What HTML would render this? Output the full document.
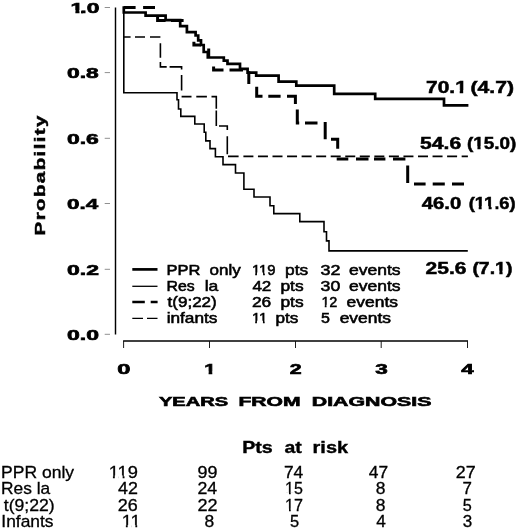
<!DOCTYPE html>
<html lang="en"><head><meta charset="utf-8"><title>Kaplan-Meier: probability by years from diagnosis</title>
<style>
html,body{margin:0;padding:0;background:#fff;}
svg{display:block;}
text{fill:#000;font-family:"Liberation Sans",Arial,Helvetica,sans-serif;}
</style></head>
<body>
<svg width="520" height="530" viewBox="0 0 520 530">
<rect x="0" y="0" width="520" height="530" fill="#fff"/>
<line x1="115.5" y1="7.6" x2="115.5" y2="334.6" stroke="#000" stroke-width="1.45"/>
<line x1="123.1" y1="341" x2="468" y2="341" stroke="#000" stroke-width="1.5"/>
<line x1="123.6" y1="341" x2="123.6" y2="348" stroke="#111" stroke-width="0.95"/>
<line x1="209.5" y1="341" x2="209.5" y2="348" stroke="#111" stroke-width="0.95"/>
<line x1="295.5" y1="341" x2="295.5" y2="348" stroke="#111" stroke-width="0.95"/>
<line x1="381.2" y1="341" x2="381.2" y2="348" stroke="#111" stroke-width="0.95"/>
<line x1="467.5" y1="341" x2="467.5" y2="348" stroke="#111" stroke-width="0.95"/>
<line x1="104.7" y1="7.5" x2="110" y2="7.5" stroke="#909090" stroke-width="1"/>
<line x1="104.7" y1="72.6" x2="110" y2="72.6" stroke="#909090" stroke-width="1"/>
<line x1="104.7" y1="138.3" x2="110" y2="138.3" stroke="#909090" stroke-width="1"/>
<line x1="104.7" y1="203.5" x2="110" y2="203.5" stroke="#909090" stroke-width="1"/>
<line x1="104.7" y1="269.3" x2="110" y2="269.3" stroke="#909090" stroke-width="1"/>
<line x1="104.7" y1="334.3" x2="110" y2="334.3" stroke="#909090" stroke-width="1"/>
<text transform="translate(70.53,12.8) scale(1.5210,1)" dx="0 -1.89 0" font-size="15.0" font-weight="bold" stroke="#000" stroke-width="0.65">1.0</text>
<rect x="70.88" y="10.04" width="4.49" height="4.08" fill="#fff"/>
<rect x="79.48" y="10.04" width="1.52" height="4.08" fill="#fff"/>
<text x="66.99" y="77.9" font-size="15.0" font-weight="bold" textLength="31.72" lengthAdjust="spacingAndGlyphs" stroke="#000" stroke-width="0.65">0.8</text>
<text x="66.99" y="143.6" font-size="15.0" font-weight="bold" textLength="31.84" lengthAdjust="spacingAndGlyphs" stroke="#000" stroke-width="0.65">0.6</text>
<text x="67.0" y="208.8" font-size="15.0" font-weight="bold" textLength="31.14" lengthAdjust="spacingAndGlyphs" stroke="#000" stroke-width="0.65">0.4</text>
<text x="66.99" y="274.6" font-size="15.0" font-weight="bold" textLength="31.93" lengthAdjust="spacingAndGlyphs" stroke="#000" stroke-width="0.65">0.2</text>
<text x="66.99" y="339.6" font-size="15.0" font-weight="bold" textLength="31.96" lengthAdjust="spacingAndGlyphs" stroke="#000" stroke-width="0.65">0.0</text>
<text x="117.28" y="374.3" font-size="15.0" font-weight="bold" textLength="13.18" lengthAdjust="spacingAndGlyphs" stroke="#000" stroke-width="0.65">0</text>
<text x="204.24" y="374.3" font-size="15.0" font-weight="bold" textLength="11.43" lengthAdjust="spacingAndGlyphs" stroke="#000" stroke-width="0.65">1</text>
<rect x="204.19" y="371.54" width="4.40" height="4.48" fill="#fff"/>
<rect x="212.30" y="371.54" width="4.14" height="4.48" fill="#fff"/>
<text x="289.82" y="374.3" font-size="15.0" font-weight="bold" textLength="11.87" lengthAdjust="spacingAndGlyphs" stroke="#000" stroke-width="0.65">2</text>
<text x="375.27" y="374.3" font-size="15.0" font-weight="bold" textLength="12.56" lengthAdjust="spacingAndGlyphs" stroke="#000" stroke-width="0.65">3</text>
<text x="461.25" y="374.3" font-size="15.0" font-weight="bold" textLength="12.39" lengthAdjust="spacingAndGlyphs" stroke="#000" stroke-width="0.65">4</text>
<text x="158.9" y="405.6" font-size="13.4" font-weight="bold" textLength="69.2" lengthAdjust="spacingAndGlyphs" stroke="#000" stroke-width="0.6">YEARS</text>
<text x="238.4" y="405.6" font-size="13.4" font-weight="bold" textLength="62.2" lengthAdjust="spacingAndGlyphs" stroke="#000" stroke-width="0.6">FROM</text>
<text x="311.8" y="405.6" font-size="13.4" font-weight="bold" textLength="119.6" lengthAdjust="spacingAndGlyphs" stroke="#000" stroke-width="0.6">DIAGNOSIS</text>
<text transform="translate(44.6,235.4) rotate(-90) scale(1.47,1)" letter-spacing="0.92" font-size="14" font-weight="bold" stroke="#000" stroke-width="0.45">Probability</text>
<path d="M123.8,7.5 V92.8 H177 V99.8 H178.5 V109 H180.8 V116.4 H194.8 V124 H204.2 V132.3 H205.8 V140.9 H210 V148.6 H215.4 V156.8 H223 V164.6 H235.5 V173 H243.9 V189.3 H254 V197 H270 V205.7 H273.8 V213.6 H299.8 V221.6 H324 V231.7 H326.5 V240.9 H329 V250.9 H467.8" fill="none" stroke="#000" stroke-width="1.6" stroke-linejoin="miter"/>
<path d="M124,37 H130.6 M135,37 H145 M150,37 H160.4 M160.4,43.3 V57.7 M160.4,62 V66.9 H166.7 M169.6,66.9 H181.6 V69.6 M181.6,75 V90.6 M181.6,96.6 H191.5 M196.3,96.6 H206.9 M211.5,96.6 H216.3 V108.8 M216.3,110.6 V126  M219,126 H227.3 V130 M227.3,136.2 V154.2 M228,156.4 H238.6" fill="none" stroke="#000" stroke-width="1.6"/>
<path d="M243.4,156.4 H467.9" fill="none" stroke="#000" stroke-width="1.6" stroke-dasharray="10 4.55"/>
<path d="M123.8,6.2 V12.5 H145.6 V15.6 H165.6 V20.2 H180.2 V26.2 H186.9 V32.2 H195.6 V35.5 H198.2 V40.3 H201 V45 H203.7 V52 H207.8 V57.5 H223.8 V60.6 H227.5 V63.8 H240 V68.8 H247.6 V72.6 H256.2 V75.6 H278.6 V81.6 H296.3 V85.7 H334.2 V93.8 H375.2 V98.9 H444 V105.4 H468.4" fill="none" stroke="#000" stroke-width="2.7" stroke-linejoin="miter"/>
<path d="M123.8,7.5 H135.6 M143.1,7.5 H155 M157.6,15.6 V20.6 H165.6 M171,20.5 H183.6 M193.9,41.8 V45.1 H201 M208.7,48.4 V57.5 M213.6,66.5 V70 H223.5 M229.5,70 H243 M248.8,71.3 V84 M256.7,86.7 V96.3 H262.5 M268.3,96.3 H280.6 M287,96.3 H295.4 V104 M297.3,109.4 V122.9 H299.2 M305,122.9 H317.5 M325.2,122 V139.2 M331,139.2 H337.7 V148.8 M336.7,159 H348.3 M356,159 H368.5 M374,159 H385.4 M393,159 H405.4 M407.7,165.6 V183 M414,184 H425.6 M432.7,184 H444.8 M452,184 H464" fill="none" stroke="#000" stroke-width="3.0"/>
<text x="426.12" y="93.2" font-size="16.6" font-weight="bold" textLength="40.64" lengthAdjust="spacingAndGlyphs" stroke="#000" stroke-width="0.5">70.1</text>
<rect x="455.25" y="90.36" width="4.46" height="4.49" fill="#fff"/>
<rect x="463.20" y="90.36" width="4.19" height="4.49" fill="#fff"/>
<text x="470.47" y="93.2" font-size="16.6" font-weight="bold" textLength="43.47" lengthAdjust="spacingAndGlyphs" stroke="#000" stroke-width="0.5">(4.7)</text>
<text x="420.07" y="149.2" font-size="16.6" font-weight="bold" textLength="41.08" lengthAdjust="spacingAndGlyphs" stroke="#000" stroke-width="0.5">54.6</text>
<text x="467.05" y="149.2" font-size="16.6" font-weight="bold" textLength="49.21" lengthAdjust="spacingAndGlyphs" stroke="#000" stroke-width="0.5">(15.0)</text>
<rect x="473.32" y="146.36" width="4.11" height="4.49" fill="#fff"/>
<rect x="480.58" y="146.36" width="3.87" height="4.49" fill="#fff"/>
<text x="421.8" y="209.0" font-size="16.6" font-weight="bold" textLength="39.43" lengthAdjust="spacingAndGlyphs" stroke="#000" stroke-width="0.5">46.0</text>
<text x="468.78" y="209.0" font-size="16.6" font-weight="bold" textLength="46.85" lengthAdjust="spacingAndGlyphs" stroke="#000" stroke-width="0.5">(11.6)</text>
<rect x="474.71" y="206.16" width="3.96" height="4.49" fill="#fff"/>
<rect x="481.66" y="206.16" width="3.73" height="4.49" fill="#fff"/>
<rect x="484.68" y="206.16" width="3.96" height="4.49" fill="#fff"/>
<rect x="491.64" y="206.16" width="3.73" height="4.49" fill="#fff"/>
<text x="425.59" y="273.5" font-size="16.6" font-weight="bold" textLength="40.85" lengthAdjust="spacingAndGlyphs" stroke="#000" stroke-width="0.5">25.6</text>
<text x="472.42" y="273.5" font-size="16.6" font-weight="bold" textLength="39.95" lengthAdjust="spacingAndGlyphs" stroke="#000" stroke-width="0.5">(7.1)</text>
<rect x="495.13" y="270.66" width="4.21" height="4.49" fill="#fff"/>
<rect x="502.59" y="270.66" width="3.96" height="4.49" fill="#fff"/>
<line x1="132.3" y1="269.4" x2="157.5" y2="269.4" stroke="#000" stroke-width="2.7"/>
<line x1="132.3" y1="286.3" x2="157.5" y2="286.3" stroke="#000" stroke-width="1.3"/>
<path d="M132.3,302 H144.8 M150.7,302 H157.6" stroke="#000" stroke-width="2.7" fill="none"/>
<path d="M132.3,318.4 H143 M147,318.4 H157.5" stroke="#000" stroke-width="1.3" fill="none"/>
<text x="166.45" y="274.8" font-size="14.8" textLength="33.9" lengthAdjust="spacingAndGlyphs" stroke="#000" stroke-width="0.55">PPR</text>
<text x="209.6" y="274.8" font-size="14.8" textLength="31.22" lengthAdjust="spacingAndGlyphs" stroke="#000" stroke-width="0.55">only</text>
<text x="251.9" y="274.8" font-size="14.8" textLength="23.61" lengthAdjust="spacingAndGlyphs" stroke="#000" stroke-width="0.55">119</text>
<rect x="251.82" y="272.52" width="3.38" height="3.96" fill="#fff"/>
<rect x="256.97" y="272.52" width="3.27" height="3.96" fill="#fff"/>
<rect x="259.69" y="272.52" width="3.38" height="3.96" fill="#fff"/>
<rect x="264.84" y="272.52" width="3.27" height="3.96" fill="#fff"/>
<text x="285.11" y="274.8" font-size="14.8" textLength="23.1" lengthAdjust="spacingAndGlyphs" stroke="#000" stroke-width="0.55">pts</text>
<text x="320.55" y="274.8" font-size="14.8" textLength="19.92" lengthAdjust="spacingAndGlyphs" stroke="#000" stroke-width="0.55">32</text>
<text x="348.98" y="274.8" font-size="14.8" textLength="51.63" lengthAdjust="spacingAndGlyphs" stroke="#000" stroke-width="0.55">events</text>
<text x="166.49" y="291.0" font-size="14.8" textLength="28.18" lengthAdjust="spacingAndGlyphs" stroke="#000" stroke-width="0.55">Res</text>
<text x="204.65" y="291.0" font-size="14.8" textLength="13.63" lengthAdjust="spacingAndGlyphs" stroke="#000" stroke-width="0.55">la</text>
<text x="252.43" y="291.0" font-size="14.8" textLength="18.91" lengthAdjust="spacingAndGlyphs" stroke="#000" stroke-width="0.55">42</text>
<text x="280.4" y="291.0" font-size="14.8" textLength="23.2" lengthAdjust="spacingAndGlyphs" stroke="#000" stroke-width="0.55">pts</text>
<text x="320.55" y="291.0" font-size="14.8" textLength="19.71" lengthAdjust="spacingAndGlyphs" stroke="#000" stroke-width="0.55">30</text>
<text x="348.98" y="291.0" font-size="14.8" textLength="51.63" lengthAdjust="spacingAndGlyphs" stroke="#000" stroke-width="0.55">events</text>
<text x="167.56" y="307.1" font-size="14.8" textLength="49.18" lengthAdjust="spacingAndGlyphs" stroke="#000" stroke-width="0.55">t(9;22)</text>
<text x="251.95" y="307.1" font-size="14.8" textLength="19.29" lengthAdjust="spacingAndGlyphs" stroke="#000" stroke-width="0.55">26</text>
<text x="280.4" y="307.1" font-size="14.8" textLength="23.2" lengthAdjust="spacingAndGlyphs" stroke="#000" stroke-width="0.55">pts</text>
<text x="321.39" y="307.1" font-size="14.8" textLength="15.97" lengthAdjust="spacingAndGlyphs" stroke="#000" stroke-width="0.55">12</text>
<rect x="321.31" y="304.82" width="3.42" height="3.96" fill="#fff"/>
<rect x="326.53" y="304.82" width="3.30" height="3.96" fill="#fff"/>
<text x="346.58" y="307.1" font-size="14.8" textLength="51.42" lengthAdjust="spacingAndGlyphs" stroke="#000" stroke-width="0.55">events</text>
<text x="166.67" y="323.0" font-size="14.8" textLength="50.84" lengthAdjust="spacingAndGlyphs" stroke="#000" stroke-width="0.55">infants</text>
<text x="251.92" y="323.0" font-size="14.8" textLength="15.55" lengthAdjust="spacingAndGlyphs" stroke="#000" stroke-width="0.55">11</text>
<rect x="251.82" y="320.72" width="3.35" height="3.96" fill="#fff"/>
<rect x="256.93" y="320.72" width="3.24" height="3.96" fill="#fff"/>
<rect x="259.59" y="320.72" width="3.35" height="3.96" fill="#fff"/>
<rect x="264.70" y="320.72" width="3.24" height="3.96" fill="#fff"/>
<text x="275.51" y="323.0" font-size="14.8" textLength="22.89" lengthAdjust="spacingAndGlyphs" stroke="#000" stroke-width="0.55">pts</text>
<text x="320.96" y="323.0" font-size="14.8" textLength="8.92" lengthAdjust="spacingAndGlyphs" stroke="#000" stroke-width="0.55">5</text>
<text x="339.68" y="323.0" font-size="14.8" textLength="51.42" lengthAdjust="spacingAndGlyphs" stroke="#000" stroke-width="0.55">events</text>
<text x="242.22" y="453.3" font-size="17" font-weight="bold" textLength="30.56" lengthAdjust="spacingAndGlyphs" stroke="#000" stroke-width="0.4">Pts</text>
<text x="284.46" y="453.3" font-size="17" font-weight="bold" textLength="17.25" lengthAdjust="spacingAndGlyphs" stroke="#000" stroke-width="0.4">at</text>
<text x="312.62" y="453.3" font-size="17" font-weight="bold" textLength="35.42" lengthAdjust="spacingAndGlyphs" stroke="#000" stroke-width="0.4">risk</text>
<text x="1.02" y="477.7" font-size="16.4" textLength="73.05" lengthAdjust="spacingAndGlyphs" stroke="#000" stroke-width="0.3">PPR only</text>
<text x="1.04" y="494.4" font-size="16.4" textLength="49.1" lengthAdjust="spacingAndGlyphs" stroke="#000" stroke-width="0.3">Res la</text>
<text x="3.79" y="510.9" font-size="16.4" textLength="50.94" lengthAdjust="spacingAndGlyphs" stroke="#000" stroke-width="0.3">t(9;22)</text>
<text x="1.35" y="527.2" font-size="16.4" textLength="52.22" lengthAdjust="spacingAndGlyphs" stroke="#000" stroke-width="0.3">Infants</text>
<text x="108.68" y="477.7" font-size="16.4" textLength="29.19" lengthAdjust="spacingAndGlyphs" stroke="#000" stroke-width="0.3">119</text>
<rect x="108.95" y="475.42" width="3.97" height="3.83" fill="#fff"/>
<rect x="114.78" y="475.42" width="3.83" height="3.83" fill="#fff"/>
<rect x="118.68" y="475.42" width="3.97" height="3.83" fill="#fff"/>
<rect x="124.51" y="475.42" width="3.83" height="3.83" fill="#fff"/>
<text x="118.05" y="494.4" font-size="16.4" textLength="19.88" lengthAdjust="spacingAndGlyphs" stroke="#000" stroke-width="0.3">42</text>
<text x="117.86" y="510.9" font-size="16.4" textLength="19.96" lengthAdjust="spacingAndGlyphs" stroke="#000" stroke-width="0.3">26</text>
<text x="121.71" y="527.2" font-size="16.4" textLength="19.03" lengthAdjust="spacingAndGlyphs" stroke="#000" stroke-width="0.3">11</text>
<rect x="121.96" y="524.92" width="3.90" height="3.83" fill="#fff"/>
<rect x="127.68" y="524.92" width="3.77" height="3.83" fill="#fff"/>
<rect x="131.47" y="524.92" width="3.90" height="3.83" fill="#fff"/>
<rect x="137.20" y="524.92" width="3.77" height="3.83" fill="#fff"/>
<text x="197.52" y="477.7" font-size="16.4" textLength="19.96" lengthAdjust="spacingAndGlyphs" stroke="#000" stroke-width="0.3">99</text>
<text x="197.47" y="494.4" font-size="16.4" textLength="19.68" lengthAdjust="spacingAndGlyphs" stroke="#000" stroke-width="0.3">24</text>
<text x="197.46" y="510.9" font-size="16.4" textLength="20.09" lengthAdjust="spacingAndGlyphs" stroke="#000" stroke-width="0.3">22</text>
<text x="204.6" y="527.2" font-size="16.4" textLength="9.7" lengthAdjust="spacingAndGlyphs" stroke="#000" stroke-width="0.3">8</text>
<text x="283.97" y="477.7" font-size="16.4" textLength="19.28" lengthAdjust="spacingAndGlyphs" stroke="#000" stroke-width="0.3">74</text>
<text x="285.11" y="494.4" font-size="16.4" textLength="17.82" lengthAdjust="spacingAndGlyphs" stroke="#000" stroke-width="0.3">15</text>
<rect x="285.28" y="492.12" width="3.71" height="3.83" fill="#fff"/>
<rect x="290.70" y="492.12" width="3.58" height="3.83" fill="#fff"/>
<text x="285.09" y="510.9" font-size="16.4" textLength="17.97" lengthAdjust="spacingAndGlyphs" stroke="#000" stroke-width="0.3">17</text>
<rect x="285.28" y="508.62" width="3.73" height="3.83" fill="#fff"/>
<rect x="290.73" y="508.62" width="3.61" height="3.83" fill="#fff"/>
<text x="290.09" y="527.2" font-size="16.4" textLength="9.15" lengthAdjust="spacingAndGlyphs" stroke="#000" stroke-width="0.3">5</text>
<text x="368.76" y="477.7" font-size="16.4" textLength="19.36" lengthAdjust="spacingAndGlyphs" stroke="#000" stroke-width="0.3">47</text>
<text x="375.8" y="494.4" font-size="16.4" textLength="9.7" lengthAdjust="spacingAndGlyphs" stroke="#000" stroke-width="0.3">8</text>
<text x="375.8" y="510.9" font-size="16.4" textLength="9.7" lengthAdjust="spacingAndGlyphs" stroke="#000" stroke-width="0.3">8</text>
<text x="376.16" y="527.2" font-size="16.4" textLength="9.59" lengthAdjust="spacingAndGlyphs" stroke="#000" stroke-width="0.3">4</text>
<text x="455.76" y="477.7" font-size="16.4" textLength="19.87" lengthAdjust="spacingAndGlyphs" stroke="#000" stroke-width="0.3">27</text>
<text x="462.49" y="494.4" font-size="16.4" textLength="9.41" lengthAdjust="spacingAndGlyphs" stroke="#000" stroke-width="0.3">7</text>
<text x="462.7" y="510.9" font-size="16.4" textLength="9.04" lengthAdjust="spacingAndGlyphs" stroke="#000" stroke-width="0.3">5</text>
<text x="462.71" y="527.2" font-size="16.4" textLength="9.49" lengthAdjust="spacingAndGlyphs" stroke="#000" stroke-width="0.3">3</text>
</svg>
</body></html>
